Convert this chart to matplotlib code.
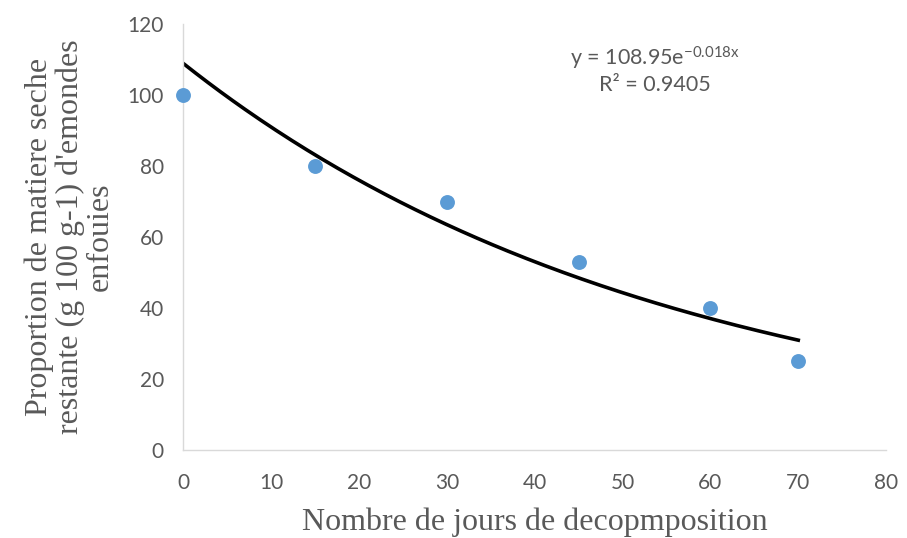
import numpy as np
import matplotlib.pyplot as plt

# Données
jours = [0, 15, 30, 45, 60, 70]
proportion = [100, 80, 70, 53, 40, 25]

# Courbe de tendance exponentielle affichée (y = a * exp(b x))
coef_a = 108.95
coef_b = -0.018
r2 = 0.9405

x_ticks = [0, 10, 20, 30, 40, 50, 60, 70, 80]
y_ticks = [0, 20, 40, 60, 80, 100, 120]

gris_texte = '#595959'
gris_axe = '#D9D9D9'
bleu = '#5B9BD5'

plt.rcParams['mathtext.default'] = 'regular'

fig = plt.figure(figsize=(9.07, 5.38), dpi=100)
ax = fig.add_axes([0.202, 0.164, 0.775, 0.791])

# Tendance
x_fit = np.linspace(min(jours), max(jours), 200)
y_fit = coef_a * np.exp(coef_b * x_fit)
ax.plot(x_fit, y_fit, color='black', linewidth=2.6, zorder=2)

# Points
ax.scatter(jours, proportion, s=115, color=bleu, zorder=3, clip_on=False, linewidths=0)

ax.set_xlim(0, 80)
ax.set_ylim(0, 120)
ax.set_xticks(x_ticks)
ax.set_yticks(y_ticks)

for side in ['top', 'right']:
    ax.spines[side].set_visible(False)
for side in ['left', 'bottom']:
    ax.spines[side].set_color(gris_axe)
    ax.spines[side].set_linewidth(1.0)

ax.tick_params(axis='both', length=0, labelsize=15, labelcolor=gris_texte)
ax.tick_params(axis='x', pad=17)
ax.tick_params(axis='y', pad=14)
for lab in ax.get_xticklabels() + ax.get_yticklabels():
    lab.set_fontfamily('Lato')

ax.set_xlabel("Nombre de jours de decopmposition", fontsize=23, color=gris_texte,
              family='Liberation Serif', labelpad=10)
ax.set_ylabel("Proportion de matiere seche\nrestante (g 100 g-1) d'emondes\nenfouies",
              fontsize=23, color=gris_texte, family='Liberation Serif',
              linespacing=1.05, labelpad=9)

ax.text(0.671, 0.92, "y = 108.95e$^{-0.018x}$", transform=ax.transAxes, ha='center',
        va='center', fontsize=15.5, color=gris_texte, family='Lato')
ax.text(0.671, 0.857, "R² = {:.4f}".format(r2), transform=ax.transAxes, ha='center',
        va='center', fontsize=15.5, color=gris_texte, family='Lato')

fig.savefig('out.png', dpi=100)
